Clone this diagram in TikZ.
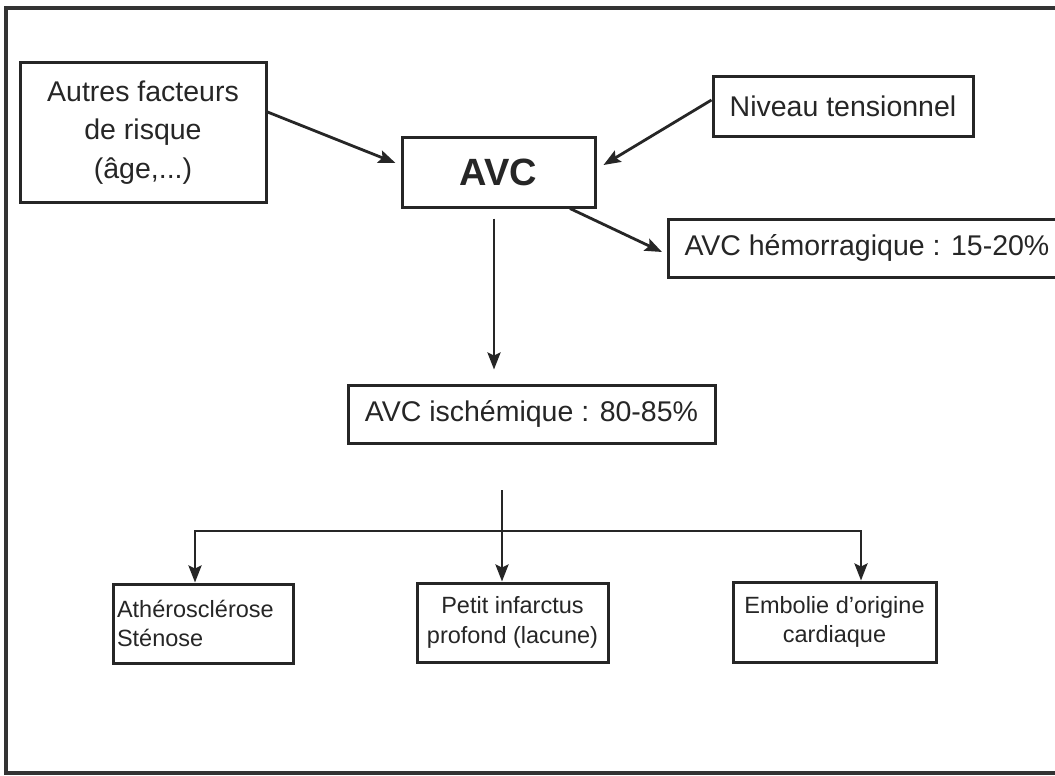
\documentclass[tikz,border=0pt]{standalone}
\usepackage{fontspec}
\setmainfont{Liberation Sans}
\usetikzlibrary{arrows.meta}
\begin{document}
\begin{tikzpicture}[x=1pt,y=-1pt,
  >={Stealth[length=17pt,width=13pt,inset=3pt]},
  box/.style={draw=black!85, line width=3pt, inner sep=0pt, text=black!85, align=center},
  bigtext/.style={font=\fontsize{28.5}{38.5}\selectfont},
  smalltext/.style={font=\fontsize{23.5}{29.5}\selectfont},
  arr/.style={draw=black!85, line width=2.8pt, line join=miter, ->},
]
% page and outer frame
\useasboundingbox (0,0) rectangle (1055,776);
\fill[white] (0,0) rectangle (1055,776);
\draw[black!80, line width=3.5pt] (6,8) rectangle (1075,773);

% boxes
\node[box,bigtext,minimum width=246pt,minimum height=139pt] (autres) at (143,132.5)
  {Autres facteurs\\de risque\\(âge,...)};
\node[box,minimum width=193pt,minimum height=70pt,
      font=\bfseries\fontsize{38}{38}\selectfont] (avc) at (498.5,172) {AVC};
\node[box,bigtext,minimum width=260pt,minimum height=59pt] (niveau) at (843,106.5)
  {Niveau tensionnel};
\node[box,bigtext,anchor=west,inner xsep=16pt,minimum height=58pt] (hemo) at (667,248)
  {AVC hémorragique : 15-20\%};
\node[box,bigtext,minimum width=367pt,minimum height=58pt] (isch) at (531.5,414)
  {AVC ischémique : 80-85\%};
\node[box,smalltext,align=left,text width=172pt,minimum width=180pt,minimum height=79pt]
  (athero) at (203,623.5) {Athérosclérose\\Sténose};
\node[box,smalltext,minimum width=191pt,minimum height=79pt] (petit) at (512.5,622.5)
  {Petit infarctus\\profond (lacune)};
\node[box,smalltext,minimum width=203pt,minimum height=80pt] (embolie) at (834.5,622)
  {Embolie d’origine\\cardiaque};

% connectors around the central box
\draw[arr] ([yshift=20.5pt]autres.east) -- ([yshift=9pt,xshift=-5pt]avc.west);
\draw[arr] ([yshift=6.5pt]niveau.west) -- ([yshift=7pt,xshift=7pt]avc.east);
\draw[arr] ([xshift=71.5pt]avc.south) -- ([yshift=-4pt,xshift=-5pt]hemo.west);
\draw[arr, shorten <=10pt, shorten >=14pt]
  ([xshift=-4.5pt]avc.south) -- ([xshift=-4.5pt]avc.south |- isch.north);

% branching towards the three causes
\coordinate (trunk) at (502,490);
\coordinate (barL) at (195,531);
\coordinate (barR) at (861,531);
\draw[arr] (trunk) -- (trunk |- petit.north);
\draw[arr, <->] (barL |- athero.north) -- (barL) -- (barR) -- (barR |- embolie.north);
\end{tikzpicture}
\end{document}
